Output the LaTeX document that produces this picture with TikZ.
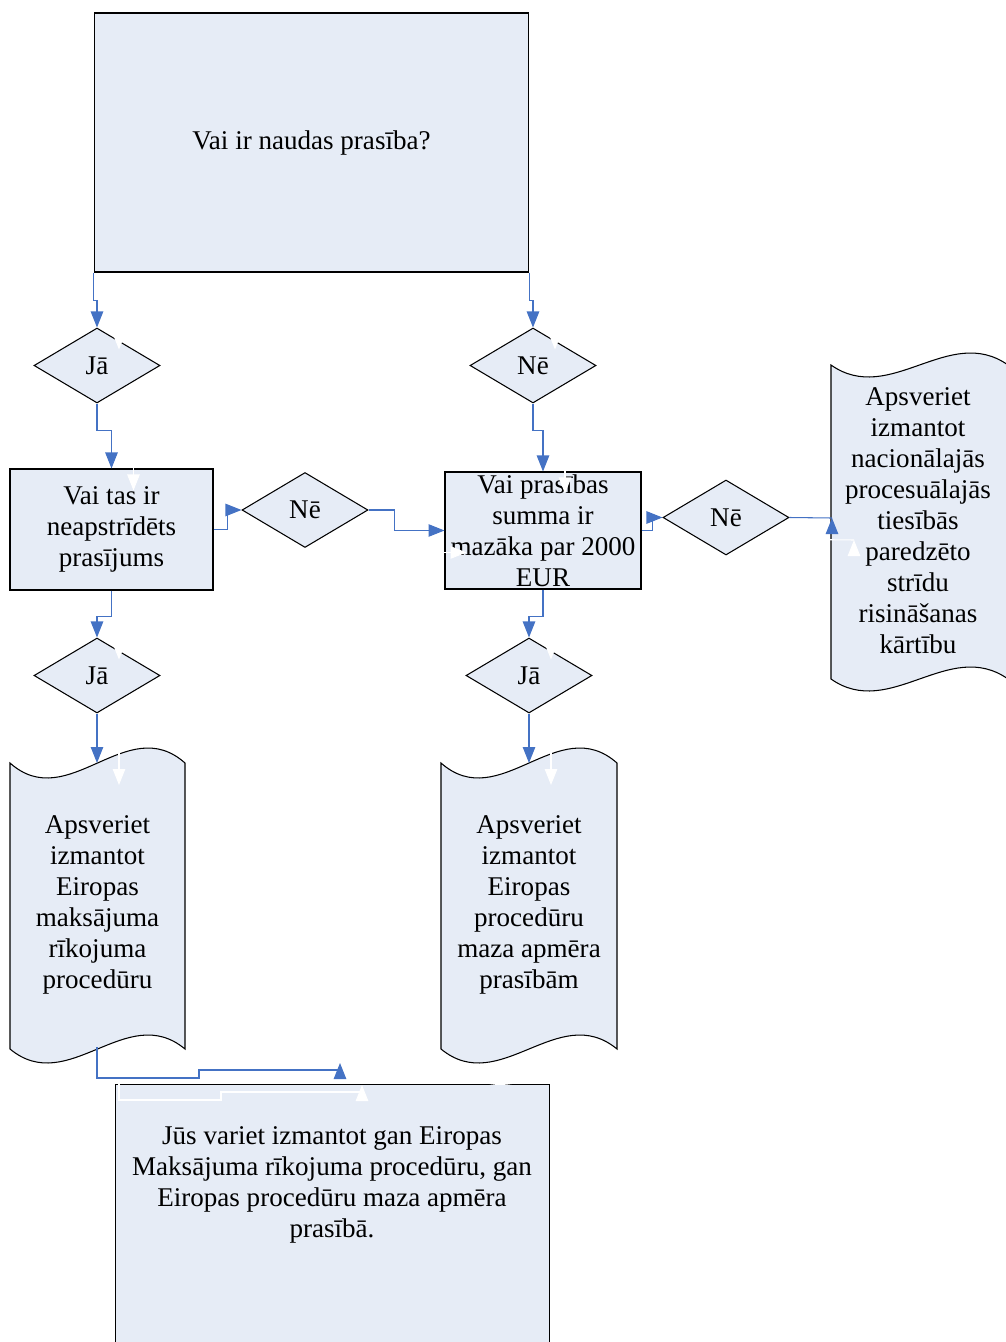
\documentclass[tikz,border=0pt]{standalone}
\usepackage{fontspec}
\setmainfont{Liberation Serif}
\usetikzlibrary{shapes.geometric,arrows.meta,calc}
\definecolor{boxfill}{HTML}{E6ECF6}
\definecolor{connblue}{HTML}{4472C4}
% wave document outline: style, L, R, top centre, top amplitude, bottom centre, bottom amplitude
\newcommand\wavedoc[7]{%
  \path[#1] (#2,#4) .. controls ({#2+(#3-#2)/3},{#4+3.46*#5}) and ({#2+2*(#3-#2)/3},{#4-3.46*#5}) .. (#3,#4)
    -- (#3,#6) .. controls ({#2+2*(#3-#2)/3},{#6-3.46*#7}) and ({#2+(#3-#2)/3},{#6+3.46*#7}) .. (#2,#6) -- cycle;}
\newcommand\allconn[2]{%
  \draw[#1] ([#2]topbox.south west) -- ++(0,28) -| ([#2]ja1.north);
  \draw[#1] ([#2]topbox.south east) -- ++(0,28) -| ([#2]ne1.north);
  \draw[#1] ([#2]ja1.south) -- ++(0,27) -| ([#2]box2.north);
  \draw[#1] ([#2]ne1.south) -- ++(0,27) -| ([#2]box3.north);
  \draw[#1] ([#2]box2.east) -- ++(14,0) |- ([#2]ne2.west);
  \draw[#1] ([#2]ne2.east) -- ++(26,0) |- ([#2]box3.west);
  \draw[#1] ([#2]box3.east) -- ++(11,0) |- ([#2]ne3.west);
  \draw[#1,-] ([#2]ne3.east) -- ([#2]rtip);
  \draw[#1] ([#2]rbase) -- ([#2]rtip);
  \draw[#1] ([#2]box2.south) -- ++(0,26) -| ([#2]ja2.north);
  \draw[#1] ([#2]box3.south) -- ++(0,27) -| ([#2]ja3.north);
  \draw[#1] ([#2]ja2.south) -- ([#2]ldtop);
  \draw[#1] ([#2]ja3.south) -- ([#2]mdtop);
  \draw[#1,-] ([#2]ldbot) -- ++(0,31) -- ++(102,0) -- ++(0,-8) -- ([#2]bmid);
  \draw[#1] ([#2]bbase) -- ([#2]btip);
}
\begin{document}
\begin{tikzpicture}[x=0.02cm,y=-0.02cm,
  every node/.style={font=\fontsize{15.4}{17.6}\selectfont},
  box/.style={draw=black,fill=boxfill,line width=0.6pt,rectangle,inner sep=0},
  dia/.style={draw=black,fill=boxfill,line width=0.6pt,diamond,minimum width=2.52cm,minimum height=1.5cm,inner sep=0},
  txt/.style={align=center,inner sep=0},
  docshape/.style={draw=black,fill=boxfill,line width=0.6pt},
  docghost/.style={fill=white},
  conn/.style={draw=connblue,line width=0.6pt,-{Triangle[length=0.32cm,width=0.25cm]}},
  ghost/.style={draw=white,line width=0.6pt,-{Triangle[length=0.32cm,width=0.25cm]}},
]
\useasboundingbox (0,0) rectangle (1005,1342);

% boxes
\node[box,minimum width=8.7cm,minimum height=5.18cm] (topbox) at (311.5,142.5) {Vai ir naudas prasība?};
\node[box,minimum width=4.06cm,minimum height=2.42cm] (box2) at (111.5,529.5) {};
\node[txt] (t2) at (111.5,529) {Vai tas ir\\neapstrīdēts\\prasījums};
\node[box,minimum width=3.92cm,minimum height=2.34cm] (box3) at (543,530.5) {};
\node[txt] (t3) at (543,530.5) {Vai prasības\\summa ir\\mazāka par 2000\\EUR};
\node[box,minimum width=8.7cm,minimum height=5.4cm] (box4) at (332.5,1219) {};
\node[txt] (t4) at (332,1185) {Jūs variet izmantot gan Eiropas\\Maksājuma rīkojuma procedūru, gan\\Eiropas procedūru maza apmēra\\prasībā.};

% diamonds
\node[dia] (ja1) at (97,365.5) {Jā};
\node[dia] (ne1) at (533,365.5) {Nē};
\node[dia] (ne2) at (305,510) {Nē};
\node[dia] (ne3) at (726,517.5) {Nē};
\node[dia] (ja2) at (97,675.5) {Jā};
\node[dia] (ja3) at (529,675.5) {Jā};

% documents
\wavedoc{docshape}{10}{185}{763}{15}{1049}{14}
\node[txt] (t5) at (97.5,905) {Apsveriet\\izmantot\\Eiropas\\maksājuma\\rīkojuma\\procedūru};
\wavedoc{docshape}{441}{617}{763}{15}{1049}{14}
\node[txt] (t6) at (529,905) {Apsveriet\\izmantot\\Eiropas\\procedūru\\maza apmēra\\prasībām};
\wavedoc{docshape}{831}{1008}{365}{12}{679}{12}
\node[txt] (t7) at (918,520.5) {Apsveriet\\izmantot\\nacionālajās\\procesuālajās\\tiesībās\\paredzēto\\strīdu\\risināšanas\\kārtību};

% white shadow of the middle document over the last box
\begin{scope}
  \clip (441,1079) rectangle (640,1095);
  \begin{scope}[shift={(22,22)}]
    \wavedoc{docghost}{441}{617}{763}{15}{1049}{14}
  \end{scope}
\end{scope}

% connector end points
\coordinate (ldtop) at (97,763);
\coordinate (mdtop) at (529,763);
\coordinate (ldbot) at (97,1047);
\coordinate (bmid) at (340,1070);
\coordinate (btip) at (340,1063);
\coordinate (bbase) at (340,1077);
\coordinate (rtip) at (832,518);
\coordinate (rbase) at (832,531);

\allconn{ghost}{shift={(22,22)}}
\allconn{conn}{shift={(0,0)}}
\end{tikzpicture}
\end{document}
